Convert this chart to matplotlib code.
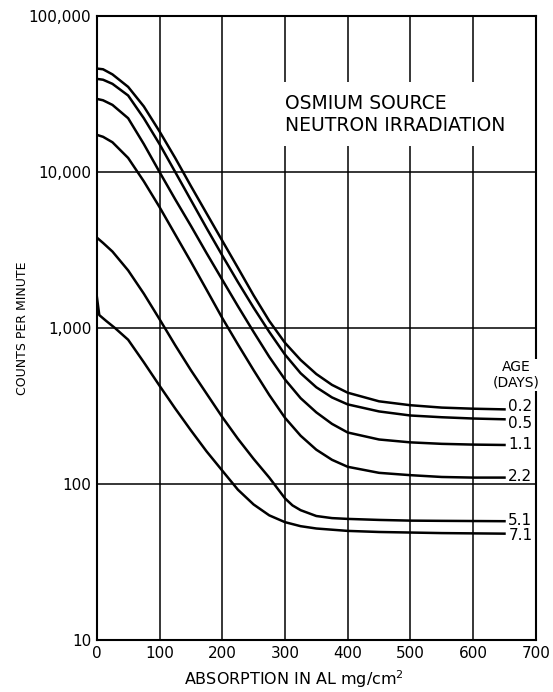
import matplotlib.pyplot as plt
from matplotlib.ticker import FixedLocator, FixedFormatter

# absorption in Al (mg/cm2) and counts per minute
x_02 = [0, 10, 25, 50, 75, 100, 125, 150, 175, 200, 225, 250, 275, 300, 325, 350, 375, 400, 450, 500, 550, 600, 650]
y_02 = [46000, 45500, 42200, 35100, 26300, 18200, 12300, 8130, 5430, 3630, 2430, 1620, 1110, 804, 624, 507, 432, 385, 339, 320, 309, 304, 301]

x_05 = [0, 10, 25, 50, 75, 100, 125, 150, 175, 200, 225, 250, 275, 300, 325, 350, 375, 400, 450, 500, 550, 600, 650]
y_05 = [39500, 39000, 36700, 30900, 22100, 15100, 10000, 6610, 4370, 2920, 1970, 1350, 944, 676, 513, 417, 359, 324, 292, 275, 268, 263, 260]

x_11 = [0, 10, 25, 50, 75, 100, 125, 150, 175, 200, 225, 250, 275, 300, 325, 350, 375, 400, 450, 500, 550, 600, 650]
y_11 = [29400, 28800, 26900, 22100, 15100, 10000, 6680, 4520, 3020, 2040, 1380, 944, 653, 468, 355, 288, 243, 214, 193, 185, 181, 179, 178]

x_22 = [0, 10, 25, 50, 75, 100, 125, 150, 175, 200, 225, 250, 275, 300, 325, 350, 375, 400, 450, 500, 550, 600, 650]
y_22 = [17300, 16800, 15500, 12300, 8710, 5960, 3980, 2660, 1760, 1160, 785, 537, 372, 266, 204, 166, 143, 129, 118, 114, 111, 110, 110]

x_51 = [0, 10, 25, 50, 75, 100, 125, 150, 175, 200, 225, 250, 275, 300, 312, 325, 350, 375, 400, 450, 500, 550, 650]
y_51 = [3800, 3510, 3090, 2340, 1660, 1140, 776, 537, 380, 269, 195, 145, 110, 81, 73, 68, 62.4, 60.5, 59.8, 58.9, 58.3, 58.1, 57.8]

x_71 = [0, 4, 15, 29, 50, 75, 100, 125, 150, 175, 200, 225, 250, 275, 300, 325, 350, 400, 450, 500, 550, 650]
y_71 = [1600, 1210, 1110, 1000, 841, 603, 427, 305, 221, 162, 122, 92, 74, 63, 57, 53.7, 51.9, 50.1, 49.3, 48.9, 48.5, 48.1]

ages = ["0.2", "0.5", "1.1", "2.2", "5.1", "7.1"]
label_y = [315, 246, 178, 112, 58, 46.5]

series = [(x_02, y_02), (x_05, y_05), (x_11, y_11), (x_22, y_22), (x_51, y_51), (x_71, y_71)]

fig = plt.figure(figsize=(5.53, 6.92), dpi=100)
ax = fig.add_axes([0.175, 0.075, 0.794, 0.902])

for (xs, ys), age, ly in zip(series, ages, label_y):
    ax.plot(xs, ys, color="black", lw=1.8, solid_joinstyle="round")
    ax.text(656, ly, age, fontsize=11, va="center", ha="left")

ax.set_yscale("log")
ax.set_xlim(0, 700)
ax.set_ylim(10, 100000)

ax.xaxis.set_major_locator(FixedLocator(range(0, 701, 100)))
ax.yaxis.set_major_locator(FixedLocator([10, 100, 1000, 10000, 100000]))
ax.yaxis.set_major_formatter(FixedFormatter(["10", "100", "1,000", "10,000", "100,000"]))
ax.yaxis.set_minor_locator(FixedLocator([]))
ax.tick_params(length=0, labelsize=11, pad=4)

ax.grid(True, which="major", color="black", lw=1.1)
for s in ax.spines.values():
    s.set_linewidth(1.5)

ax.text(300, 23500, "OSMIUM SOURCE\nNEUTRON IRRADIATION", fontsize=13.5,
        ha="left", va="center", linespacing=1.2,
        bbox=dict(facecolor="white", edgecolor="none", pad=8))
ax.text(668, 500, "AGE\n(DAYS)", fontsize=10, ha="center", va="center",
        linespacing=1.1, bbox=dict(facecolor="white", edgecolor="none", pad=1))

ax.set_xlabel("ABSORPTION IN AL mg/cm$^2$", fontsize=11.5, labelpad=6)
ax.xaxis.set_label_coords(0.45, -0.045)
ax.set_ylabel("COUNTS PER MINUTE", fontsize=9)
ax.yaxis.set_label_coords(-0.155, 0.5)

fig.savefig("out.png", dpi=100)
